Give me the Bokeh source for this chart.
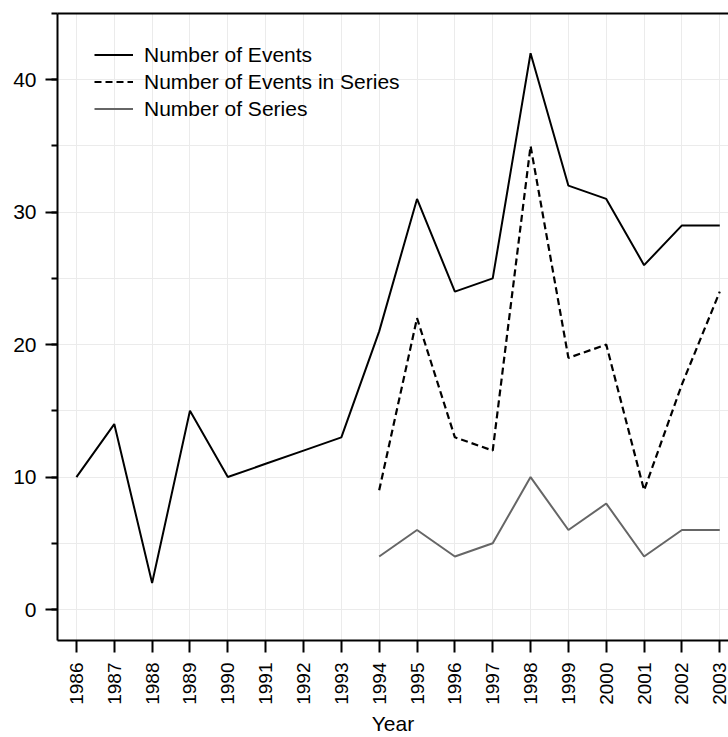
from bokeh.plotting import figure
from bokeh.models import (Range1d, SingleIntervalTicker, FixedTicker, LinearAxis,
                          Legend, LegendItem)
from bokeh.embed import file_html
from bokeh.resources import INLINE
import math

years = list(range(1986, 2004))
events = [10, 14, 2, 15, 10, 11, 12, 13, 21, 31, 24, 25, 42, 32, 31, 26, 29, 29]
series_years = list(range(1994, 2004))
events_in_series = [9, 22, 13, 12, 35, 19, 20, 9, 17, 24]
num_series = [4, 6, 4, 5, 10, 6, 8, 4, 6, 6]

FONT = "Liberation Sans"

p = figure(width=728, height=737, output_backend="svg", toolbar_location=None,
           x_range=Range1d(1985.5, 2003.23), y_range=Range1d(-2.34, 45),
           min_border_left=57, min_border_top=13, min_border_bottom=0,
           min_border_right=0, x_axis_location="below")
p.outline_line_color = None
p.background_fill_color = "white"
p.border_fill_color = "white"

r1 = p.line(years, events, line_color="black", line_width=2)
r2 = p.line(series_years, events_in_series, line_color="black", line_width=2.2,
            line_dash="7 4")
r3 = p.line(series_years, num_series, line_color="#666666", line_width=2)

# axes
xa = p.xaxis[0]
xa.ticker = FixedTicker(ticks=years)
xa.major_label_orientation = math.pi / 2
xa.axis_label = "Year"
xa.axis_label_text_font = FONT
xa.axis_label_text_font_size = "21px"
xa.axis_label_text_font_style = "normal"
xa.axis_label_text_color = "black"
xa.axis_label_standoff = 4
xa.major_label_text_font = FONT
xa.major_label_text_font_size = "19px"
xa.major_label_text_color = "black"
xa.major_label_standoff = 10
xa.major_tick_out = 12
xa.major_tick_in = 0
xa.minor_tick_line_color = None
xa.axis_line_width = 2
xa.major_tick_line_width = 2
xa.axis_line_color = "black"
xa.major_tick_line_color = "black"

ya = p.yaxis[0]
ya.ticker = SingleIntervalTicker(interval=10, num_minor_ticks=2)
ya.major_label_text_font = FONT
ya.major_label_text_font_size = "21px"
ya.major_label_text_color = "black"
ya.major_label_standoff = 9
ya.major_tick_out = 12
ya.major_tick_in = 0
ya.minor_tick_out = 6
ya.minor_tick_in = 0
ya.axis_line_width = 2
ya.major_tick_line_width = 2
ya.minor_tick_line_width = 2
ya.axis_line_color = "black"
ya.major_tick_line_color = "black"
ya.minor_tick_line_color = "black"

top = LinearAxis(ticker=FixedTicker(ticks=[]), major_label_text_font_size="0px",
                 major_tick_out=0, minor_tick_out=0, axis_line_width=2,
                 axis_line_color="black", major_label_standoff=0)
p.add_layout(top, "above")

# grid
p.xgrid.grid_line_color = "#ebebeb"
p.xgrid.grid_line_width = 1
p.ygrid.grid_line_color = "#ebebeb"
p.ygrid.grid_line_width = 1
p.ygrid.minor_grid_line_color = "#ebebeb"
p.ygrid.minor_grid_line_width = 1

legend = Legend(items=[
    LegendItem(label="Number of Events", renderers=[r1]),
    LegendItem(label="Number of Events in Series", renderers=[r2]),
    LegendItem(label="Number of Series", renderers=[r3]),
], location=(37, 518))
legend.margin = 0
legend.padding = 0
legend.border_line_color = None
legend.background_fill_alpha = 0
legend.glyph_width = 39
legend.glyph_height = 27
legend.label_height = 27
legend.label_standoff = 11
legend.spacing = 0
legend.label_text_font = FONT
legend.label_text_font_size = "21px"
legend.label_text_color = "black"
p.add_layout(legend)

open("out.html", "w").write(file_html(p, INLINE))
